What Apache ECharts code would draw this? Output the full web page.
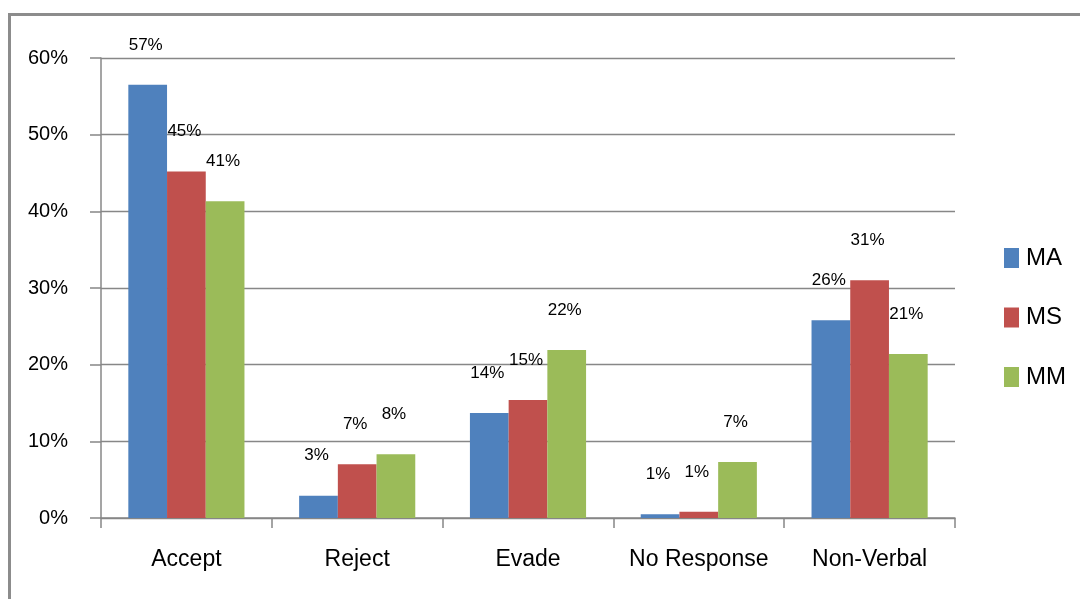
<!DOCTYPE html>
<html>
<head>
<meta charset="utf-8">
<script src="https://cdn.jsdelivr.net/npm/echarts@6/dist/echarts.min.js"></script>
<style>
  html, body { margin: 0; padding: 0; background: #fff; }
  #chart { width: 1080px; height: 599px; }
</style>
</head>
<body>
<div id="chart"></div>
<script>
// Response types and share of each group's answers (percent)
const categories = ['Accept', 'Reject', 'Evade', 'No Response', 'Non-Verbal'];
const seriesNames = ['MA', 'MS', 'MM'];
const maValues = [56.5, 2.9, 13.7, 0.5, 25.8];
const msValues = [45.2, 7.0, 15.4, 0.8, 31.0];
const mmValues = [41.3, 8.3, 21.9, 7.3, 21.4];
const yTicks = [0, 10, 20, 30, 40, 50, 60];

const colors = ['#4F81BD', '#C0504D', '#9BBB59'];
const FONT = '"Liberation Sans", Arial, sans-serif';
const GRAY = '#878787';

const chart = echarts.init(document.getElementById('chart'), null, { renderer: 'canvas' });

function barSeries(name, values, color) {
  return {
    name: name,
    type: 'bar',
    data: values,
    barGap: '0%',
    barCategoryGap: '32%',
    itemStyle: { color: color },
    label: {
      show: true,
      position: 'top',
      offset: [-2, -25],
      formatter: p => Math.round(p.value) + '%',
      fontFamily: FONT,
      fontSize: 17,
      lineHeight: 20,
      color: '#000'
    }
  };
}

chart.setOption({
  animation: false,
  backgroundColor: '#fff',
  color: colors,
  graphic: [{
    type: 'rect',
    shape: { x: 9.5, y: 14.5, width: 1200, height: 800 },
    style: { fill: 'none', stroke: '#8c8c8c', lineWidth: 3 },
    silent: true,
    z: 0
  }],
  grid: { left: 101, right: 125, top: 58, bottom: 81 },
  legend: {
    orient: 'vertical',
    left: 999,
    top: 238,
    itemWidth: 15,
    itemHeight: 20,
    itemGap: 29.5,
    icon: 'rect',
    data: seriesNames,
    textStyle: { fontFamily: FONT, fontSize: 24, lineHeight: 30, color: '#000', padding: [0, 0, 0, 2] }
  },
  xAxis: {
    type: 'category',
    data: categories,
    axisLine: { lineStyle: { color: GRAY, width: 1.5 } },
    axisTick: { show: true, length: 10, alignWithLabel: false, lineStyle: { color: GRAY, width: 1.5 } },
    axisLabel: { interval: 0, fontFamily: FONT, fontSize: 23, lineHeight: 30, color: '#000', margin: 27 }
  },
  yAxis: {
    type: 'value',
    min: yTicks[0],
    max: yTicks[yTicks.length - 1],
    interval: 10,
    axisLine: { show: true, lineStyle: { color: GRAY, width: 1.5 } },
    axisTick: { show: true, length: 11, lineStyle: { color: GRAY, width: 1.5 } },
    splitLine: { show: true, lineStyle: { color: GRAY, width: 1.3 } },
    axisLabel: {
      fontFamily: FONT, fontSize: 20, color: '#000', margin: 33,
      formatter: v => v + '%'
    }
  },
  series: [
    barSeries(seriesNames[0], maValues, colors[0]),
    barSeries(seriesNames[1], msValues, colors[1]),
    barSeries(seriesNames[2], mmValues, colors[2])
  ]
});
</script>
</body>
</html>
